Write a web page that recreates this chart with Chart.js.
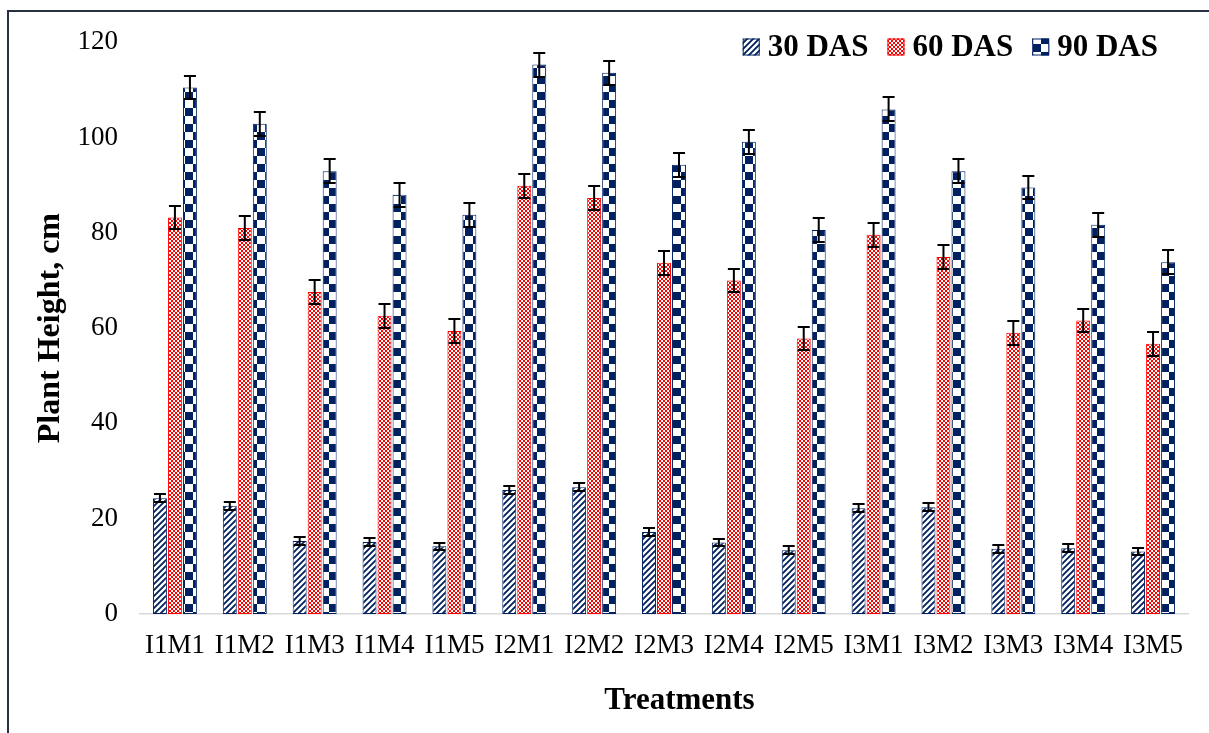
<!DOCTYPE html>
<html><head><meta charset="utf-8">
<script src="https://cdn.jsdelivr.net/npm/chart.js@4.4.1/dist/chart.umd.min.js"></script>
<style>
html,body{margin:0;padding:0;background:#fff;width:1209px;height:733px;overflow:hidden;}
#frame{position:absolute;left:7px;top:10px;width:1230px;height:760px;border-left:2px solid #263040;border-top:2px solid #263040;}
#c{position:absolute;left:0;top:0;}
</style></head><body>
<div id="frame"><canvas id="c" width="1200" height="721"></canvas></div>
<script>
const categories = ['I1M1','I1M2','I1M3','I1M4','I1M5','I2M1','I2M2','I2M3','I2M4','I2M5','I3M1','I3M2','I3M3','I3M4','I3M5'];
const seriesLabels = ['30 DAS','60 DAS','90 DAS'];
const das30 = [24.3,22.7,15.3,15.1,14.2,26.0,26.6,17.2,15.0,13.4,22.2,22.4,13.7,13.8,13.1];
const das60 = [83.2,81.0,67.6,62.6,59.4,89.9,87.3,73.7,70.0,57.8,79.6,74.9,59.0,61.6,56.7];
const das90 = [110.5,102.9,92.9,88.0,83.8,115.3,113.6,94.3,99.1,80.6,105.9,92.9,89.5,81.7,73.8];
const err30 = [0.8,0.8,0.8,0.8,0.8,0.8,0.8,0.8,0.8,0.8,0.8,0.8,0.8,0.8,0.8];
const err60 = [2.5,2.5,2.5,2.5,2.5,2.5,2.5,2.5,2.5,2.5,2.5,2.5,2.5,2.5,2.5];
const err90 = [2.5,2.5,2.5,2.5,2.5,2.5,2.5,2.5,2.5,2.5,2.5,2.5,2.5,2.5,2.5];
const yTicks = [0,20,40,60,80,100,120];

const NAVY = '#002060', RED = '#FF0000';
function makePattern(size, draw){
  const c = document.createElement('canvas'); c.width = size; c.height = size;
  const g = c.getContext('2d'); draw(g, size);
  return document.getElementById('c').getContext('2d').createPattern(c, 'repeat');
}
const pat30 = makePattern(6, (g,s)=>{
  g.fillStyle = NAVY; g.fillRect(0,0,s,s);
  g.strokeStyle = '#fff'; g.lineWidth = 2.4;
  g.beginPath();
  g.moveTo(-1, s+1); g.lineTo(s+1, -1);
  g.moveTo(-1, 1); g.lineTo(1, -1);
  g.moveTo(s-1, s+1); g.lineTo(s+1, s-1);
  g.stroke();
});
const pat60 = makePattern(4, (g,s)=>{
  g.fillStyle = RED; g.fillRect(0,0,s,s);
  g.fillStyle = '#fff'; g.fillRect(0,0,2,2); g.fillRect(2,2,2,2);
});
const pat90 = makePattern(16, (g,s)=>{
  g.fillStyle = NAVY; g.fillRect(0,0,s,s);
  g.fillStyle = '#fff'; g.fillRect(8,0,8,8); g.fillRect(0,8,8,8);
});

const errorBars = {
  id: 'errorBars',
  afterDatasetsDraw(chart){
    const ctx = chart.ctx, y = chart.scales.y;
    chart.data.datasets.forEach((ds, i) => {
      const meta = chart.getDatasetMeta(i);
      meta.data.forEach((bar, j) => {
        const v = ds.data[j], e = ds.errors[j];
        const yt = Math.round(y.getPixelForValue(v + e)), yb = Math.round(y.getPixelForValue(v - e));
        ctx.save(); ctx.strokeStyle = '#000'; ctx.lineWidth = 2;
        ctx.beginPath();
        ctx.moveTo(bar.x, yt); ctx.lineTo(bar.x, yb);
        ctx.moveTo(bar.x - 6, yt); ctx.lineTo(bar.x + 6, yt);
        ctx.moveTo(bar.x - 6, yb); ctx.lineTo(bar.x + 6, yb);
        ctx.stroke(); ctx.restore();
      });
    });
  }
};

const customLegend = {
  id: 'customLegend',
  afterDraw(chart){
    const ctx = chart.ctx;
    ctx.save();
    ctx.font = 'bold 31px "Liberation Serif", "Times New Roman", serif';
    ctx.textBaseline = 'middle'; ctx.textAlign = 'left';
    let x = chart.chartArea.right - 30;
    const cy = 35;
    const dss = chart.data.datasets;
    for (let i = dss.length - 1; i >= 0; i--) {
      const ds = dss[i];
      const w = ctx.measureText(ds.label).width;
      const tx = x - w;
      ctx.fillStyle = '#000';
      ctx.fillText(ds.label, tx, cy + 1);
      const bx = tx - 8 - 17;
      ctx.fillStyle = ds.backgroundColor;
      ctx.fillRect(bx, cy - 8.5, 17, 17);
      ctx.strokeStyle = ds.borderColor; ctx.lineWidth = 1;
      ctx.strokeRect(bx + 0.5, cy - 8, 16, 16);
      x = bx - 19;
    }
    ctx.restore();
  }
};

const tickFont = {family: '"Liberation Serif", "Times New Roman", serif', size: 27};
const yTitleFont = {family: '"Liberation Serif", "Times New Roman", serif', size: 32, weight: 'bold'};
const xTitleFont = {family: '"Liberation Serif", "Times New Roman", serif', size: 31, weight: 'bold'};

new Chart(document.getElementById('c'), {
  type: 'bar',
  data: {
    labels: categories,
    datasets: [
      {label: seriesLabels[0], data: das30, errors: err30, backgroundColor: pat30, borderColor: NAVY},
      {label: seriesLabels[1], data: das60, errors: err60, backgroundColor: pat60, borderColor: RED},
      {label: seriesLabels[2], data: das90, errors: err90, backgroundColor: pat90, borderColor: NAVY}
    ]
  },
  options: {
    responsive: false,
    animation: false,
    devicePixelRatio: 1,
    layout: {padding: {left: 19, right: 21, top: 30, bottom: 0}},
    datasets: {bar: {categoryPercentage: 0.644, barPercentage: 0.93, borderWidth: 1, borderSkipped: false}},
    plugins: {legend: {display: false}, tooltip: {enabled: false}},
    scales: {
      x: {
        grid: {display: false},
        border: {display: true, color: '#d9d9d9', width: 1.5},
        ticks: {font: tickFont, color: '#000', padding: 8, maxRotation: 0, autoSkip: false},
        title: {display: true, text: '    Treatments', font: xTitleFont, color: '#000', padding: {top: 0, bottom: 13}},
        afterFit: s => { s.height = 119; }
      },
      y: {
        min: 0, max: 120,
        grid: {display: false},
        border: {display: false},
        ticks: {font: tickFont, color: '#000', padding: 14, stepSize: 20},
        afterBuildTicks: s => { s.ticks = yTicks.map(v => ({value: v})); },
        title: {display: true, text: 'Plant Height, cm', font: yTitleFont, color: '#000', padding: {top: 4, bottom: 4}},
        afterFit: s => { s.width = 112; }
      }
    }
  },
  plugins: [errorBars, customLegend]
});
</script>
</body></html>
